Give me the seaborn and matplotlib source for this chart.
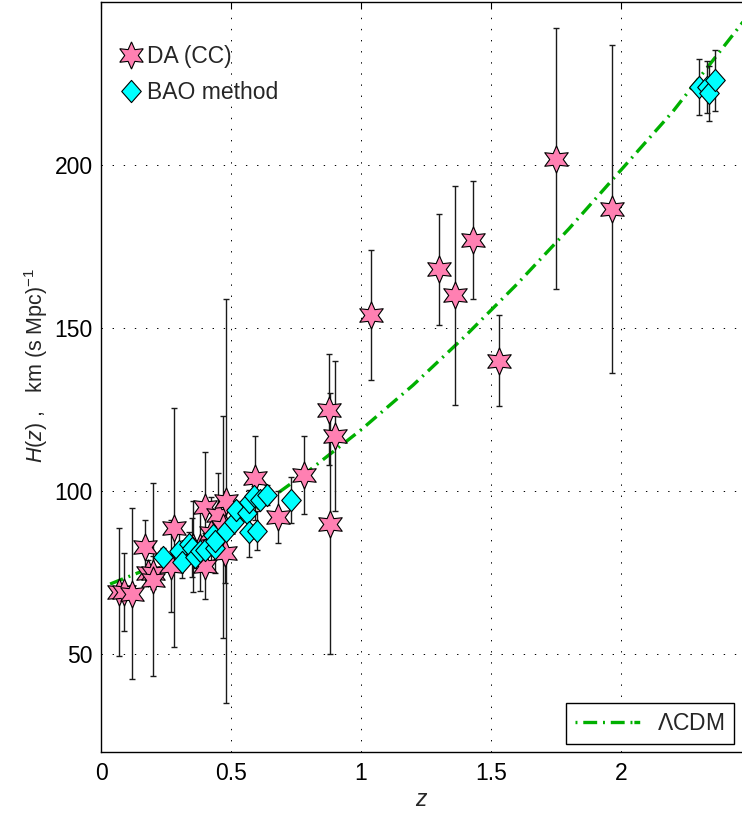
import numpy as np
import pandas as pd
import seaborn as sns
import matplotlib
matplotlib.use("Agg")
import matplotlib.pyplot as plt
from matplotlib.lines import Line2D
from matplotlib.path import Path

# ---- data ----
cc_z = [0.070, 0.090, 0.120, 0.170, 0.1791, 0.1993, 0.200, 0.270, 0.280, 0.3519,
        0.3802, 0.400, 0.4004, 0.4247, 0.4497, 0.470, 0.4783, 0.480, 0.5929, 0.6797,
        0.7812, 0.8754, 0.880, 0.900, 1.037, 1.300, 1.363, 1.430, 1.530, 1.750, 1.965]
cc_H = [69, 69, 68.6, 83, 75, 75, 72.9, 77, 88.8, 83,
        83, 95, 77, 87.1, 92.8, 89, 80.9, 97, 104, 92,
        105, 125, 90, 117, 154, 168, 160, 177, 140, 202, 186.5]
cc_err = [19.6, 12, 26.2, 8, 4, 5, 29.6, 14, 36.6, 14,
          13.5, 17, 10.2, 11.2, 12.9, 34, 9, 62, 13, 8,
          12, 17, 40, 23, 20, 17, 33.6, 18, 14, 40, 50.4]

bao_z = [0.24, 0.30, 0.31, 0.34, 0.35, 0.36, 0.38, 0.40, 0.43, 0.44, 0.44, 0.48, 0.51,
         0.52, 0.56, 0.57, 0.57, 0.59, 0.60, 0.61, 0.64, 0.73, 2.30, 2.33, 2.34, 2.36]
bao_H = [79.69, 81.7, 78.18, 83.8, 82.7, 79.94, 81.5, 82.04, 86.45, 82.6, 84.81, 87.79, 90.4,
         94.35, 93.34, 87.6, 96.8, 98.48, 87.9, 97.3, 98.82, 97.3, 224, 224, 222, 226]
bao_err = [2.99, 6.22, 4.74, 3.66, 9.1, 3.38, 1.9, 2.03, 3.68, 7.8, 1.83, 2.03, 1.9,
           2.64, 2.3, 7.8, 3.4, 3.18, 6.1, 2.1, 2.98, 7.0, 8.6, 8, 8.5, 9.3]

lcdm_z = [0.035, 0.2, 0.4, 0.6, 0.8, 1.0, 1.2, 1.4, 1.6, 1.8, 2.0, 2.2, 2.47]
lcdm_H = [71.5, 76.8, 85.0, 94.8, 106.3, 118.8, 132.5, 147.5, 163.5, 180.5, 198.5, 216.5, 244.0]

xticks = [0, 0.5, 1, 1.5, 2]
xtick_labels = ["0", "0.5", "1", "1.5", "2"]
yticks = [50, 100, 150, 200]

cc_df = pd.DataFrame({"z": cc_z, "H": cc_H, "err": cc_err})
bao_df = pd.DataFrame({"z": bao_z, "H": bao_H, "err": bao_err})
line_df = pd.DataFrame({"z": lcdm_z, "H": lcdm_H})

# ---- style ----
sns.set_style("white")
plt.rcParams["font.family"] = ["Liberation Sans", "DejaVu Sans"]
plt.rcParams["mathtext.fontset"] = "custom"
plt.rcParams["mathtext.rm"] = "Liberation Sans"
plt.rcParams["mathtext.it"] = "Liberation Sans:italic"
plt.rcParams["lines.scale_dashes"] = False

PINK = "#ff80b2"
CYAN = "#00ffff"
GREEN = "#00b000"
FS = 16.5

hexagram = (6, 1, 0)
diamond = Path([(0, 1), (0.88, 0), (0, -1), (-0.88, 0), (0, 1)],
               [Path.MOVETO, Path.LINETO, Path.LINETO, Path.LINETO, Path.CLOSEPOLY])

fig = plt.figure(figsize=(7.42, 8.15), dpi=100)
ax = fig.add_axes([101 / 742, 63 / 815, 641 / 742, 750 / 815])

# model line
sns.lineplot(data=line_df, x="z", y="H", ax=ax, color=GREEN, lw=2.4,
             linestyle=(0, (10, 4.2, 1.4, 4.2)), legend=False, zorder=2,
             estimator=None, sort=True)

# error bars
ax.errorbar(cc_df["z"], cc_df["H"], yerr=cc_df["err"], fmt="none",
            ecolor="#1a1a1a", elinewidth=1.0, capsize=2.2, capthick=1.0, zorder=3)
ax.errorbar(bao_df["z"], bao_df["H"], yerr=bao_df["err"], fmt="none",
            ecolor="#1a1a1a", elinewidth=1.0, capsize=2.2, capthick=1.0, zorder=3)

# markers
sns.scatterplot(data=cc_df, x="z", y="H", ax=ax, marker=hexagram, s=19.5 ** 2,
                color=PINK, edgecolor="black", linewidth=0.8, zorder=4, legend=False)
sns.scatterplot(data=bao_df, x="z", y="H", ax=ax, marker=diamond, s=16 ** 2,
                color=CYAN, edgecolor="black", linewidth=0.8, zorder=5, legend=False)

# axes
ax.set_xlim(0, 2.465)
ax.set_ylim(20, 250)
ax.set_xticks(xticks)
ax.set_xticklabels(xtick_labels)
ax.set_yticks(yticks)
ax.tick_params(direction="in", length=5, width=0.8, labelsize=FS, colors="black",
               top=True, right=False)
ax.tick_params(axis="x", pad=7)
ax.tick_params(axis="y", pad=6)
for side in ["left", "bottom", "top"]:
    ax.spines[side].set_color("black")
    ax.spines[side].set_linewidth(1.0)
ax.spines["right"].set_visible(False)
ax.grid(True, color="black", linestyle=(0, (1.0, 7.0)), linewidth=0.7)
ax.set_axisbelow(True)

ax.set_xlabel(r"$z$", fontsize=FS, labelpad=2)
ax.set_ylabel(r"$H(z)$ ,   km (s Mpc)$^{-1}$", fontsize=15.5)
ax.yaxis.set_label_coords(-0.079, 0.515)

# legends
h1 = Line2D([], [], linestyle="none", marker=hexagram, markersize=19.5,
            markerfacecolor=PINK, markeredgecolor="black", markeredgewidth=0.8)
h2 = Line2D([], [], linestyle="none", marker=diamond, markersize=16,
            markerfacecolor=CYAN, markeredgecolor="black", markeredgewidth=0.8)
leg1 = ax.legend([h1, h2], ["DA (CC)", "BAO method"], loc="upper left",
                 bbox_to_anchor=(0.03, 0.943), frameon=False, fontsize=FS,
                 handlelength=0.9, handletextpad=0.25, labelspacing=0.58,
                 borderaxespad=0.0, borderpad=0.0)
ax.add_artist(leg1)

h3 = Line2D([], [], color=GREEN, lw=2.4,
            linestyle=(0, (1.4, 4.2, 10, 4.2, 1.4, 4.2, 10, 4.2, 1.4)))
leg2 = ax.legend([h3], [r"$\Lambda$CDM"], loc="lower right", fontsize=FS,
                 frameon=True, fancybox=False, edgecolor="black", framealpha=1,
                 handlelength=3.0, borderaxespad=0.35, borderpad=0.4,
                 handletextpad=0.6)
leg2.get_frame().set_linewidth(1.0)

fig.savefig("out.png", dpi=100)
